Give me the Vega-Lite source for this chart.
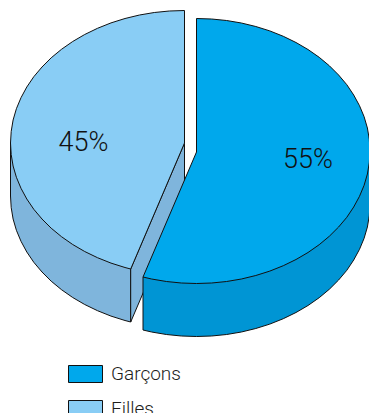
{
  "$schema": "https://vega.github.io/schema/vega-lite/v6.json",
  "width": 369,
  "height": 413,
  "padding": 0,
  "autosize": "none",
  "background": "white",
  "config": {"view": {"stroke": null}},
  "datasets": {
    "fillesExterieur": [
      {"x":10.5,"y":143},{"x":10.5,"y":196},{"x":11.2,"y":207.6},{"x":13.1,"y":219},{"x":16.4,"y":230.3},{"x":21,"y":241.3},{"x":26.8,"y":252},{"x":33.8,"y":262.3},{"x":42,"y":272},{"x":51.2,"y":281.2},{"x":61.5,"y":289.7},{"x":72.7,"y":297.5},{"x":84.7,"y":304.5},{"x":97.5,"y":310.7},{"x":111,"y":316.1},{"x":125,"y":320.5},{"x":130.7,"y":322},{"x":130.7,"y":269},{"x":10.5,"y":143}
    ],
    "fillesInterieur": [
      {"x":130.7,"y":269},{"x":130.7,"y":322},{"x":184.5,"y":196},{"x":184.5,"y":143},{"x":130.7,"y":269}
    ],
    "garconsExterieur": [
      {"x":370,"y":151},{"x":370,"y":204},{"x":369.3,"y":215.6},{"x":367.4,"y":227},{"x":364.1,"y":238.3},{"x":359.5,"y":249.3},{"x":353.7,"y":260},{"x":346.8,"y":270.3},{"x":338.6,"y":280},{"x":329.4,"y":289.2},{"x":319.2,"y":297.7},{"x":308,"y":305.5},{"x":296,"y":312.5},{"x":283.3,"y":318.7},{"x":269.8,"y":324.1},{"x":255.8,"y":328.5},{"x":241.4,"y":332},{"x":226.6,"y":334.5},{"x":211.6,"y":336},{"x":196.5,"y":336.5},{"x":181.4,"y":336},{"x":166.4,"y":334.5},{"x":151.6,"y":332},{"x":143,"y":330},{"x":143,"y":277},{"x":370,"y":151}
    ],
    "dessus": [
      {"categorie":"Filles","x":184.5,"y":143},{"categorie":"Filles","x":184.5,"y":10.5},{"categorie":"Filles","x":169.3,"y":11},{"categorie":"Filles","x":154.3,"y":12.5},{"categorie":"Filles","x":139.5,"y":15},{"categorie":"Filles","x":125,"y":18.5},{"categorie":"Filles","x":111,"y":22.9},{"categorie":"Filles","x":97.5,"y":28.3},{"categorie":"Filles","x":84.7,"y":34.5},{"categorie":"Filles","x":72.7,"y":41.5},{"categorie":"Filles","x":61.5,"y":49.3},{"categorie":"Filles","x":51.2,"y":57.8},{"categorie":"Filles","x":42,"y":67},{"categorie":"Filles","x":33.8,"y":76.7},{"categorie":"Filles","x":26.8,"y":87},{"categorie":"Filles","x":21,"y":97.7},{"categorie":"Filles","x":16.4,"y":108.7},{"categorie":"Filles","x":13.1,"y":120},{"categorie":"Filles","x":11.2,"y":131.4},{"categorie":"Filles","x":10.5,"y":143},{"categorie":"Filles","x":11.2,"y":154.6},{"categorie":"Filles","x":13.1,"y":166},{"categorie":"Filles","x":16.4,"y":177.3},{"categorie":"Filles","x":21,"y":188.3},{"categorie":"Filles","x":26.8,"y":199},{"categorie":"Filles","x":33.8,"y":209.3},{"categorie":"Filles","x":42,"y":219},{"categorie":"Filles","x":51.2,"y":228.2},{"categorie":"Filles","x":61.5,"y":236.7},{"categorie":"Filles","x":72.7,"y":244.5},{"categorie":"Filles","x":84.7,"y":251.5},{"categorie":"Filles","x":97.5,"y":257.7},{"categorie":"Filles","x":111,"y":263.1},{"categorie":"Filles","x":125,"y":267.5},{"categorie":"Filles","x":130.7,"y":269},{"categorie":"Filles","x":184.5,"y":143},
      {"categorie":"Garçons","x":196.5,"y":152},{"categorie":"Garçons","x":196.5,"y":18.5},{"categorie":"Garçons","x":211.6,"y":19},{"categorie":"Garçons","x":226.6,"y":20.5},{"categorie":"Garçons","x":241.4,"y":23},{"categorie":"Garçons","x":255.8,"y":26.5},{"categorie":"Garçons","x":269.8,"y":30.9},{"categorie":"Garçons","x":283.3,"y":36.3},{"categorie":"Garçons","x":296,"y":42.5},{"categorie":"Garçons","x":308,"y":49.5},{"categorie":"Garçons","x":319.2,"y":57.3},{"categorie":"Garçons","x":329.4,"y":65.8},{"categorie":"Garçons","x":338.6,"y":75},{"categorie":"Garçons","x":346.8,"y":84.7},{"categorie":"Garçons","x":353.7,"y":95},{"categorie":"Garçons","x":359.5,"y":105.7},{"categorie":"Garçons","x":364.1,"y":116.7},{"categorie":"Garçons","x":367.4,"y":128},{"categorie":"Garçons","x":369.3,"y":139.4},{"categorie":"Garçons","x":370,"y":151},{"categorie":"Garçons","x":369.3,"y":162.6},{"categorie":"Garçons","x":367.4,"y":174},{"categorie":"Garçons","x":364.1,"y":185.3},{"categorie":"Garçons","x":359.5,"y":196.3},{"categorie":"Garçons","x":353.7,"y":207},{"categorie":"Garçons","x":346.8,"y":217.3},{"categorie":"Garçons","x":338.6,"y":227},{"categorie":"Garçons","x":329.4,"y":236.2},{"categorie":"Garçons","x":319.2,"y":244.7},{"categorie":"Garçons","x":308,"y":252.5},{"categorie":"Garçons","x":296,"y":259.5},{"categorie":"Garçons","x":283.3,"y":265.7},{"categorie":"Garçons","x":269.8,"y":271.1},{"categorie":"Garçons","x":255.8,"y":275.5},{"categorie":"Garçons","x":241.4,"y":279},{"categorie":"Garçons","x":226.6,"y":281.5},{"categorie":"Garçons","x":211.6,"y":283},{"categorie":"Garçons","x":196.5,"y":283.5},{"categorie":"Garçons","x":181.4,"y":283},{"categorie":"Garçons","x":166.4,"y":281.5},{"categorie":"Garçons","x":151.6,"y":279},{"categorie":"Garçons","x":143,"y":277},{"categorie":"Garçons","x":196.5,"y":152}
    ],
    "parts": [
      {"categorie":"Garçons","part":55,"etiquette":"55%","x":308,"y":160},
      {"categorie":"Filles","part":45,"etiquette":"45%","x":83.5,"y":143}
    ]
  },
  "encoding": {
    "x": {"field":"x","type":"quantitative","scale":{"domain":[0,369],"nice":false,"zero":false},"axis":null},
    "y": {"field":"y","type":"quantitative","scale":{"domain":[413,0],"nice":false,"zero":false},"axis":null}
  },
  "layer": [
    {
      "data": {"name":"fillesExterieur"},
      "mark": {"type":"line","fill":"#7fb5dc","stroke":"#111111","strokeWidth":1},
      "encoding": {"order":{"value":null}}
    },
    {
      "data": {"name":"fillesInterieur"},
      "mark": {"type":"line","fill":"#7fb5dc","stroke":"#111111","strokeWidth":1},
      "encoding": {"order":{"value":null}}
    },
    {
      "data": {"name":"garconsExterieur"},
      "mark": {"type":"line","fill":"#0095d4","stroke":"#111111","strokeWidth":1},
      "encoding": {"order":{"value":null}}
    },
    {
      "data": {"name":"dessus"},
      "mark": {"type":"line","stroke":"#111111","strokeWidth":1},
      "encoding": {
        "order": {"value":null},
        "fill": {
          "field":"categorie","type":"nominal",
          "scale":{"domain":["Garçons","Filles"],"range":["#00a8ec","#89cdf5"]},
          "legend":{
            "title":null,"orient":"none","legendX":68,"legendY":356.5,"padding":0,
            "symbolType":"M-1,-0.5H1V0.5H-1Z","symbolSize":1156,"symbolStrokeColor":"#111111","symbolStrokeWidth":1,"symbolOpacity":1,
            "labelFont":"Roboto","labelFontSize":19,"labelFontWeight":300,"labelColor":"#1d1d1b","labelOffset":8,"rowPadding":7
          }
        }
      }
    },
    {
      "data": {"name":"parts"},
      "mark": {"type":"text","font":"Roboto","fontSize":27,"fontWeight":300,"color":"#111111","align":"center","baseline":"middle"},
      "encoding": {"text":{"field":"etiquette"}}
    }
  ]
}
